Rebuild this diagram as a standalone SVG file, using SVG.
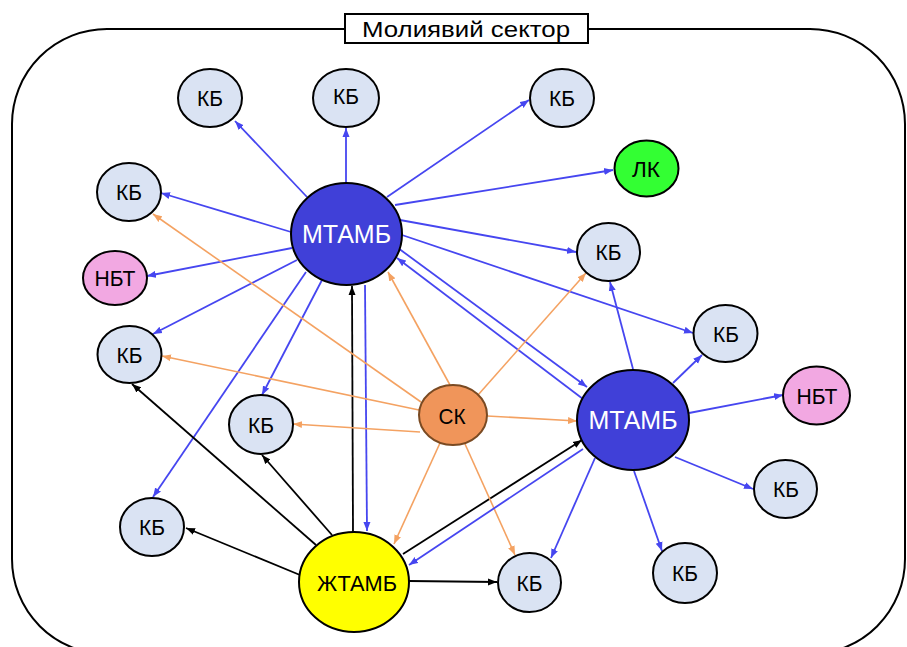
<svg xmlns="http://www.w3.org/2000/svg" width="907" height="647" viewBox="0 0 907 647">
<style>
.b{stroke:#4646f0;stroke-width:1.8;fill:none;marker-end:url(#ab)}
.k{stroke:#000;stroke-width:1.8;fill:none;marker-end:url(#ak)}
.o{stroke:#f4a262;stroke-width:1.6;fill:none;marker-end:url(#ao)}
.kb{fill:#dae3f3;stroke:#000;stroke-width:2}
.nbt{fill:#f2a8e2;stroke:#000;stroke-width:2}
.mt{fill:#4040d8;stroke:#000;stroke-width:2}
.t{font-family:"Liberation Sans",Arial,sans-serif;font-size:22px;text-anchor:middle;fill:#000}
.tw{font-family:"Liberation Sans",Arial,sans-serif;font-size:25px;text-anchor:middle;fill:#fff}
</style>
<defs>
<marker id="ab" markerUnits="userSpaceOnUse" markerWidth="10" markerHeight="8" refX="9" refY="4" orient="auto"><path d="M0,0.5 L9,4 L0,7.5 z" fill="#4646f0"/></marker>
<marker id="ak" markerUnits="userSpaceOnUse" markerWidth="10" markerHeight="8" refX="9" refY="4" orient="auto"><path d="M0,0.5 L9,4 L0,7.5 z" fill="#000"/></marker>
<marker id="ao" markerUnits="userSpaceOnUse" markerWidth="10" markerHeight="8" refX="9" refY="4" orient="auto"><path d="M0,0.5 L9,4 L0,7.5 z" fill="#f4a262"/></marker>
</defs>
<rect width="907" height="647" fill="#fff"/>
<g id="container">
<rect x="12" y="29" width="893" height="625" rx="95" ry="95" fill="none" stroke="#000" stroke-width="2"/>
<rect x="345" y="14" width="243" height="29" fill="#fff" stroke="#000" stroke-width="2"/>
<text x="466" y="37" class="t" textLength="208" lengthAdjust="spacingAndGlyphs">Молиявий сектор</text>
</g>
<g id="connectors">
<line class="b" x1="307" y1="197" x2="235" y2="121"/>
<line class="b" x1="346" y1="183" x2="346" y2="128"/>
<line class="b" x1="387" y1="197" x2="529" y2="100"/>
<line class="b" x1="395" y1="205" x2="613" y2="170"/>
<line class="b" x1="291" y1="232" x2="161" y2="193"/>
<line class="b" x1="292" y1="248" x2="147" y2="276"/>
<line class="b" x1="297" y1="260" x2="153" y2="334"/>
<line class="b" x1="322" y1="280" x2="262" y2="395"/>
<line class="b" x1="306" y1="272" x2="153" y2="497"/>
<line class="b" x1="365" y1="285" x2="367" y2="531"/>
<line class="b" x1="400" y1="220" x2="576" y2="252"/>
<line class="b" x1="402" y1="235" x2="693" y2="333"/>
<line class="b" x1="398" y1="248" x2="587" y2="387"/>
<line class="b" x1="583" y1="399" x2="397" y2="258"/>
<line class="k" x1="353" y1="532" x2="352" y2="286"/>
<line class="k" x1="316" y1="545" x2="132" y2="384"/>
<line class="k" x1="332" y1="535" x2="262" y2="455"/>
<line class="k" x1="300" y1="575" x2="186" y2="528"/>
<line class="k" x1="403" y1="554" x2="582" y2="440"/>
<line class="k" x1="409" y1="581" x2="497" y2="582"/>
<line class="o" x1="421" y1="402" x2="153" y2="214"/>
<line class="o" x1="419" y1="410" x2="162" y2="356"/>
<line class="o" x1="420" y1="432" x2="293" y2="424"/>
<line class="o" x1="450" y1="385" x2="388" y2="272"/>
<line class="o" x1="478" y1="395" x2="586" y2="273"/>
<line class="o" x1="487" y1="416" x2="577" y2="421"/>
<line class="o" x1="440" y1="443" x2="394" y2="544"/>
<line class="o" x1="465" y1="444" x2="515" y2="555"/>
<line class="b" x1="633" y1="369" x2="610" y2="282"/>
<line class="b" x1="673" y1="383" x2="702" y2="355"/>
<line class="b" x1="689" y1="413" x2="783" y2="395"/>
<line class="b" x1="675" y1="457" x2="753" y2="489"/>
<line class="b" x1="634" y1="471" x2="662" y2="551"/>
<line class="b" x1="595" y1="458" x2="551" y2="558"/>
<line class="b" x1="583" y1="449" x2="409" y2="565"/>
</g>
<g id="kb-top1"><ellipse class="kb" cx="210" cy="98" rx="32" ry="29"/><text class="t" x="210" y="106" textLength="26" lengthAdjust="spacingAndGlyphs">КБ</text></g>
<g id="kb-top2"><ellipse class="kb" cx="346" cy="98" rx="33" ry="29"/><text class="t" x="346" y="104" textLength="26" lengthAdjust="spacingAndGlyphs">КБ</text></g>
<g id="kb-top3"><ellipse class="kb" cx="562" cy="98" rx="32" ry="29"/><text class="t" x="562" y="106" textLength="26" lengthAdjust="spacingAndGlyphs">КБ</text></g>
<g id="lk"><ellipse cx="646.5" cy="168.5" rx="32" ry="28" fill="#33ff33" stroke="#000" stroke-width="2"/><text class="t" x="646" y="177" textLength="28" lengthAdjust="spacingAndGlyphs">ЛК</text></g>
<g id="kb-left1"><ellipse class="kb" cx="129" cy="192" rx="32" ry="29"/><text class="t" x="129" y="200" textLength="26" lengthAdjust="spacingAndGlyphs">КБ</text></g>
<g id="nbt-left"><ellipse class="nbt" cx="115" cy="278" rx="32" ry="27"/><text class="t" x="115" y="286" textLength="41" lengthAdjust="spacingAndGlyphs">НБТ</text></g>
<g id="kb-left2"><ellipse class="kb" cx="129.5" cy="354.5" rx="32" ry="28.5"/><text class="t" x="129.5" y="363" textLength="26" lengthAdjust="spacingAndGlyphs">КБ</text></g>
<g id="kb-midleft"><ellipse class="kb" cx="261" cy="424.5" rx="32" ry="29.5"/><text class="t" x="261" y="433" textLength="26" lengthAdjust="spacingAndGlyphs">КБ</text></g>
<g id="kb-bottomleft"><ellipse class="kb" cx="152" cy="527" rx="32" ry="29"/><text class="t" x="152" y="535" textLength="26" lengthAdjust="spacingAndGlyphs">КБ</text></g>
<g id="mtamb1"><ellipse class="mt" cx="346.5" cy="234" rx="55.5" ry="51"/><text class="tw" x="346.5" y="243">МТАМБ</text></g>
<g id="sk"><ellipse cx="453" cy="415" rx="34" ry="30" fill="#f0955a" stroke="#7a4a22" stroke-width="2"/><text class="t" x="452" y="424" textLength="27" lengthAdjust="spacingAndGlyphs">СК</text></g>
<g id="mtamb2"><ellipse class="mt" cx="633" cy="420" rx="56" ry="50"/><text class="tw" x="633" y="429">МТАМБ</text></g>
<g id="kb-right1"><ellipse class="kb" cx="608.5" cy="252" rx="31.5" ry="29"/><text class="t" x="608.5" y="260" textLength="26" lengthAdjust="spacingAndGlyphs">КБ</text></g>
<g id="kb-right2"><ellipse class="kb" cx="725.5" cy="333.5" rx="32" ry="28.5"/><text class="t" x="726" y="342" textLength="26" lengthAdjust="spacingAndGlyphs">КБ</text></g>
<g id="nbt-right"><ellipse class="nbt" cx="816.5" cy="395.5" rx="33.5" ry="29"/><text class="t" x="817" y="404" textLength="41" lengthAdjust="spacingAndGlyphs">НБТ</text></g>
<g id="kb-right3"><ellipse class="kb" cx="785.5" cy="489" rx="31.5" ry="29"/><text class="t" x="786" y="497" textLength="26" lengthAdjust="spacingAndGlyphs">КБ</text></g>
<g id="kb-right4"><ellipse class="kb" cx="685" cy="573" rx="32" ry="30"/><text class="t" x="685" y="581" textLength="26" lengthAdjust="spacingAndGlyphs">КБ</text></g>
<g id="zhtamb"><ellipse cx="354" cy="582" rx="55" ry="50" fill="#ffff00" stroke="#000" stroke-width="2"/><text class="t" x="357" y="591" font-size="24" textLength="80" lengthAdjust="spacingAndGlyphs">ЖТАМБ</text></g>
<g id="kb-bottom"><ellipse class="kb" cx="529.5" cy="582.5" rx="31.5" ry="29.5"/><text class="t" x="529.5" y="591" textLength="26" lengthAdjust="spacingAndGlyphs">КБ</text></g>
</svg>
